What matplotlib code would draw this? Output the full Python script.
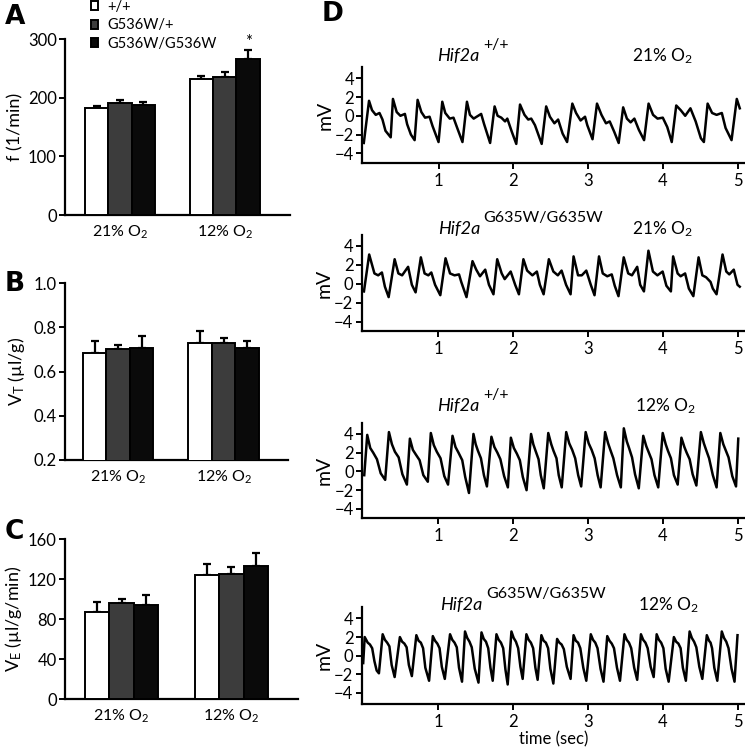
import matplotlib
matplotlib.use('Agg')
import matplotlib.pyplot as plt
import numpy as np

plt.rcParams['font.family'] = ['Lato', 'DejaVu Sans']
plt.rcParams['font.size'] = 12
plt.rcParams['mathtext.fontset'] = 'custom'
plt.rcParams['mathtext.rm'] = 'Lato'
plt.rcParams['mathtext.it'] = 'Lato:italic'
plt.rcParams['mathtext.bf'] = 'Lato:bold'
plt.rcParams['mathtext.default'] = 'regular'

# ---- bar panels A-C ----
conditions = ['21% O$_2$', '12% O$_2$']
genotypes = ['+/+', 'G536W/+', 'G536W/G536W']
bar_colors = ['white', '#3c3c3c', '#0a0a0a']

f_mean = [[183, 192, 188], [232, 236, 266]]
f_err = [[3, 5, 5], [5, 8, 15]]

vt_mean = [[0.683, 0.701, 0.707], [0.731, 0.731, 0.707]]
vt_err = [[0.057, 0.021, 0.056], [0.055, 0.021, 0.033]]

ve_mean = [[87.3, 96.0, 94.3], [124.0, 125.0, 133.3]]
ve_err = [[10.4, 4.0, 10.0], [11.3, 7.7, 12.7]]

# ---- traces (panel D), time in sec, mV ----
tr1_t = [0.00, 0.07, 0.11, 0.16, 0.21, 0.25, 0.29, 0.36,
         0.39, 0.44, 0.49, 0.55, 0.58, 0.63, 0.68,
         0.72, 0.77, 0.82, 0.88, 0.92, 1.00,
         1.05, 1.09, 1.15, 1.20, 1.25, 1.32,
         1.38, 1.42, 1.47, 1.57, 1.61, 1.69,
         1.75, 1.79, 1.84, 1.89, 1.92, 1.98, 2.04,
         2.09, 2.15, 2.20, 2.24, 2.29, 2.38,
         2.44, 2.49, 2.55, 2.60, 2.66, 2.72,
         2.79, 2.84, 2.90, 2.96, 2.99, 3.06,
         3.12, 3.18, 3.24, 3.29, 3.35, 3.41,
         3.47, 3.52, 3.57, 3.62, 3.68, 3.75,
         3.81, 3.87, 3.93, 4.00, 4.06, 4.12,
         4.18, 4.24, 4.30, 4.37, 4.44, 4.51, 4.55,
         4.60, 4.66, 4.72, 4.79, 4.84, 4.92,
         4.99, 5.03]
tr1_v = [-2.9, 1.6, 0.6, 0.1, 0.3, -0.4, -1.6, -2.3,
         1.8, 0.4, 0.0, 0.2, -0.9, -2.0, -2.6,
         1.7, 0.4, -0.2, -0.1, -1.1, -2.8,
         1.5, 0.3, -0.3, -0.2, -1.3, -2.8,
         1.5, 0.1, -0.3, 0.2, -0.9, -2.9,
         1.0, 0.0, -0.2, -0.6, -0.3, -1.7, -3.0,
         1.2, 0.1, -0.4, -0.3, -1.0, -3.0,
         1.0, -0.1, -0.8, -0.4, -1.9, -2.8,
         1.3, 0.3, -0.5, -0.1, -1.0, -2.5,
         1.3, 0.1, -0.8, -0.6, -1.7, -2.9,
         0.9, -0.3, -0.7, -0.3, -1.5, -2.6,
         1.3, 0.1, -0.3, -0.2, -1.2, -2.8,
         1.1, 0.6, 0.0, 0.8, -0.6, -2.4, -2.8,
         1.3, 0.3, 0.1, 0.3, -1.3, -2.6,
         1.8, 0.8]

tr2_t = [0.01, 0.08, 0.15, 0.20, 0.25, 0.29, 0.34,
         0.42, 0.47, 0.52, 0.60, 0.65, 0.70,
         0.77, 0.82, 0.87, 0.91, 0.96, 1.03,
         1.10, 1.16, 1.22, 1.28, 1.31, 1.38,
         1.46, 1.51, 1.56, 1.63, 1.68, 1.74,
         1.79, 1.85, 1.89, 1.97, 2.03, 2.08,
         2.14, 2.19, 2.26, 2.32, 2.36, 2.41,
         2.48, 2.54, 2.60, 2.65, 2.71, 2.77,
         2.81, 2.87, 2.92, 2.98, 3.04, 3.09,
         3.15, 3.20, 3.26, 3.32, 3.36, 3.41,
         3.48, 3.54, 3.59, 3.66, 3.70, 3.75,
         3.81, 3.87, 3.93, 4.00, 4.05, 4.11,
         4.14, 4.20, 4.24, 4.30, 4.35, 4.41,
         4.48, 4.53, 4.58, 4.64, 4.67, 4.72,
         4.80, 4.85, 4.89, 4.95, 5.00, 5.03]
tr2_v = [-0.8, 3.1, 1.1, 0.9, 1.2, -0.3, -1.4,
         2.6, 1.1, 0.9, 1.8, -0.1, -0.9,
         2.8, 1.1, 0.9, 1.2, -0.1, -1.2,
         2.7, 1.1, 0.9, 1.0, 0.2, -1.4,
         2.4, 1.5, 0.8, 1.5, -0.1, -1.1,
         2.6, 1.1, 0.5, 1.3, -0.1, -1.1,
         2.6, 1.4, 0.9, 1.3, -0.1, -1.1,
         2.6, 1.3, 0.9, 1.4, -0.1, -1.1,
         2.9, 0.9, 0.9, 1.4, -0.1, -1.2,
         2.9, 1.1, 0.8, 1.0, -0.2, -1.3,
         2.8, 1.1, 0.9, 1.8, -0.1, -0.8,
         3.5, 1.3, 0.9, 1.3, -0.2, -0.8,
         2.9, 1.1, 0.8, 1.1, -0.5, -1.3,
         2.8, 0.9, 0.7, 0.2, -0.5, -1.1,
         3.1, 1.3, 1.0, 1.5, -0.1, -0.3]

tr3_t = [0.01, 0.05, 0.09, 0.13, 0.18, 0.23, 0.29,
         0.34, 0.38, 0.42, 0.47, 0.52, 0.58,
         0.62, 0.66, 0.70, 0.75, 0.80, 0.86,
         0.90, 0.94, 0.98, 1.03, 1.08, 1.13,
         1.19, 1.23, 1.27, 1.32, 1.36, 1.41,
         1.47, 1.50, 1.53, 1.57, 1.61, 1.65,
         1.71, 1.75, 1.79, 1.83, 1.88, 1.93,
         1.97, 2.01, 2.05, 2.09, 2.13, 2.18,
         2.24, 2.27, 2.30, 2.34, 2.37, 2.41,
         2.47, 2.51, 2.54, 2.58, 2.61, 2.65,
         2.71, 2.75, 2.79, 2.83, 2.87, 2.91,
         2.97, 3.01, 3.05, 3.09, 3.13, 3.17,
         3.23, 3.27, 3.30, 3.34, 3.39, 3.44,
         3.48, 3.52, 3.55, 3.59, 3.63, 3.68,
         3.74, 3.78, 3.81, 3.85, 3.89, 3.94,
         4.00, 4.04, 4.07, 4.11, 4.15, 4.20,
         4.25, 4.29, 4.32, 4.36, 4.40, 4.45,
         4.51, 4.55, 4.58, 4.62, 4.67, 4.72,
         4.77, 4.81, 4.84, 4.88, 4.93, 4.98,
         5.01]
tr3_v = [-0.4, 3.9, 2.5, 2.0, 1.3, -0.2, -0.9,
         4.2, 2.9, 2.1, 1.5, -0.3, -1.4,
         3.5, 2.3, 1.8, 1.2, -0.4, -1.1,
         4.1, 2.8, 2.1, 1.4, -0.5, -1.4,
         3.8, 2.6, 2.0, 1.2, -0.6, -2.3,
         4.0, 2.9, 2.2, 1.4, -0.4, -1.6,
         3.7, 2.6, 2.0, 1.3, -0.5, -1.7,
         3.6, 2.5, 1.9, 1.2, -0.6, -2.0,
         4.0, 2.9, 2.2, 1.3, -0.4, -1.8,
         4.1, 2.9, 2.2, 1.4, -0.4, -1.7,
         4.2, 3.0, 2.3, 1.4, -0.4, -1.6,
         4.2, 3.0, 2.3, 1.4, -0.4, -1.7,
         4.2, 3.0, 2.3, 1.4, -0.4, -1.7,
         4.6, 3.2, 2.5, 1.5, -0.3, -1.8,
         3.8, 2.7, 2.1, 1.3, -0.4, -1.7,
         4.1, 2.9, 2.2, 1.4, -0.4, -1.4,
         3.6, 2.6, 2.0, 1.3, -0.3, -1.5,
         4.2, 3.0, 2.3, 1.4, -0.4, -1.7,
         4.1, 2.9, 2.3, 1.5, -0.5, -1.6,
         3.5]

tr4_t = [0.00, 0.02, 0.06, 0.09, 0.12, 0.15, 0.18, 0.21,
         0.26, 0.29, 0.32, 0.35, 0.38, 0.42,
         0.49, 0.52, 0.55, 0.58, 0.61, 0.65,
         0.71, 0.74, 0.77, 0.80, 0.83, 0.88,
         0.93, 0.96, 0.99, 1.02, 1.05, 1.09,
         1.16, 1.19, 1.22, 1.25, 1.28, 1.32,
         1.36, 1.39, 1.42, 1.45, 1.49, 1.54,
         1.58, 1.61, 1.64, 1.67, 1.70, 1.73,
         1.78, 1.81, 1.84, 1.87, 1.90, 1.93,
         1.98, 2.01, 2.04, 2.07, 2.10, 2.13,
         2.18, 2.21, 2.24, 2.27, 2.30, 2.33,
         2.38, 2.41, 2.44, 2.47, 2.50, 2.54,
         2.59, 2.62, 2.65, 2.68, 2.72, 2.77,
         2.81, 2.84, 2.87, 2.90, 2.94, 2.98,
         3.04, 3.07, 3.10, 3.13, 3.17, 3.21,
         3.26, 3.29, 3.32, 3.35, 3.39, 3.43,
         3.49, 3.52, 3.55, 3.58, 3.62, 3.66,
         3.71, 3.74, 3.77, 3.80, 3.84, 3.88,
         3.92, 3.95, 3.98, 4.01, 4.04, 4.08,
         4.15, 4.18, 4.21, 4.24, 4.27, 4.31,
         4.36, 4.39, 4.42, 4.45, 4.49, 4.53,
         4.59, 4.62, 4.64, 4.66, 4.69, 4.73,
         4.79, 4.82, 4.85, 4.88, 4.92, 4.96,
         5.00]
tr4_v = [-0.8, 2.0, 1.4, 1.2, 0.8, -0.6, -1.6, -1.9,
         2.3, 1.7, 1.4, 1.0, -1.0, -2.3,
         2.0, 1.5, 1.3, 0.9, -1.0, -2.2,
         2.2, 1.6, 1.4, 0.8, -1.3, -2.7,
         2.1, 1.6, 1.3, 0.8, -1.2, -2.5,
         2.3, 1.7, 1.4, 0.9, -1.3, -2.8,
         2.6, 1.9, 1.5, 0.9, -1.4, -2.9,
         2.5, 1.8, 1.5, 0.8, -1.3, -2.7,
         2.3, 1.7, 1.4, 0.8, -1.5, -3.1,
         2.6, 1.9, 1.5, 0.8, -1.2, -2.5,
         2.3, 1.7, 1.4, 0.8, -1.3, -2.6,
         2.2, 1.6, 1.4, 0.8, -1.4, -3.0,
         1.8, 1.4, 1.2, 0.7, -1.2, -2.5,
         2.2, 1.6, 1.4, 0.8, -1.3, -2.7,
         2.3, 1.7, 1.4, 0.8, -1.4, -2.8,
         2.1, 1.6, 1.3, 0.8, -1.3, -2.7,
         2.3, 1.7, 1.4, 0.8, -1.3, -2.6,
         2.3, 1.7, 1.4, 0.8, -1.2, -2.3,
         2.3, 1.7, 1.4, 0.8, -1.4, -2.8,
         2.0, 1.5, 1.3, 0.8, -1.3, -2.7,
         2.6, 1.9, 1.5, 0.9, -1.2, -2.5,
         2.2, 1.6, 1.4, 0.8, -1.3, -2.7,
         2.6, 1.9, 1.5, 0.8, -1.4, -2.8,
         2.2]

trace_gene = ['Hif2a', 'Hif2a', 'Hif2a', 'Hif2a']
trace_allele = ['+/+', 'G635W/G635W', '+/+', 'G635W/G635W']
trace_oxygen = ['21% O$_2$', '21% O$_2$', '12% O$_2$', '12% O$_2$']

W, H = 745, 751
fig = plt.figure(figsize=(W / 100, H / 100), dpi=100)


def px_axes(left, right, top, bottom):
    return fig.add_axes([left / W, 1 - bottom / H, (right - left) / W, (bottom - top) / H])


def style_axes(ax):
    for s in ['top', 'right']:
        ax.spines[s].set_visible(False)
    for s in ['left', 'bottom']:
        ax.spines[s].set_linewidth(1.6)
    ax.tick_params(axis='y', direction='out', length=4, width=1.4, pad=2, labelsize=12)


def bar_panel(ax, means, errs, ylim, yticks, xlim):
    style_axes(ax)
    groups = [0, 4.5]
    handles = []
    for k in range(3):
        xs = [g + k - 1 for g in groups]
        vals = [means[0][k], means[1][k]]
        es = [errs[0][k], errs[1][k]]
        b = ax.bar(xs, vals, width=1.0, color=bar_colors[k], edgecolor='black',
                   linewidth=1.4, zorder=3)
        ax.errorbar(xs, vals, yerr=[[0, 0], es], fmt='none', ecolor='black',
                    elinewidth=1.6, capsize=3, capthick=1.6, zorder=2)
        handles.append(b)
    ax.set_ylim(*ylim)
    ax.set_yticks(yticks)
    ax.set_xlim(*xlim)
    ax.set_xticks(groups)
    ax.set_xticklabels(conditions)
    ax.tick_params(axis='x', length=0, pad=6, labelsize=11.5)
    return handles


axA = px_axes(65, 290, 39.3, 215)
hA = bar_panel(axA, f_mean, f_err, (0, 300), [0, 100, 200, 300], (-2.36, 7.3))
axA.set_ylabel('f (1/min)', labelpad=3, fontsize=13)
axA.text(4.5 + 1, f_mean[1][2] + f_err[1][2] + 1, '*', ha='center', va='bottom', fontsize=12)
fig.legend(hA, genotypes, loc='upper left', bbox_to_anchor=(91 / W, 1.0), frameon=False,
           handlelength=0.5, handleheight=0.6, handletextpad=0.6, labelspacing=0.3,
           borderpad=0.0, borderaxespad=0.0, fontsize=10.5)

axB = px_axes(65, 288, 283.3, 460)
bar_panel(axB, vt_mean, vt_err, (0.2, 1.0), [0.2, 0.4, 0.6, 0.8, 1.0], (-2.26, 7.24))
axB.set_yticklabels(['0.2', '0.4', '0.6', '0.8', '1.0'])
axB.set_ylabel('V$_\\mathregular{T}$ (µl/g)', labelpad=5, fontsize=13)

axC = px_axes(65, 298, 539.3, 699.3)
bar_panel(axC, ve_mean, ve_err, (0, 160), [0, 40, 80, 120, 160], (-2.32, 7.23))
axC.set_ylabel('V$_\\mathregular{E}$ (µl/g/min)', labelpad=3, fontsize=13)

# ---- traces ----
trace_boxes = [(362.3, 745, 66.7, 163.3, (-5.07, 5.24)),
               (361.7, 745, 235, 331, (-4.98, 5.16)),
               (362.0, 745, 422.7, 518.3, (-5.0, 5.2)),
               (361.7, 745, 607.3, 704, (-5.2, 5.2))]
traces = [(tr1_t, tr1_v), (tr2_t, tr2_v), (tr3_t, tr3_v), (tr4_t, tr4_v)]
title_y = [61, 234, 411, 610]
title_x = [437, 438, 437, 440]
sup_x = [483, 483, 483, 486]
oxy_x = [632, 632, 635, 638]

for i, (box, (t, v)) in enumerate(zip(trace_boxes, traces)):
    l, r, tp, bt, yl = box
    ax = px_axes(l, r, tp, bt)
    style_axes(ax)
    ax.plot(t, v, color='black', linewidth=1.8, solid_joinstyle='round')
    ax.set_xlim(-0.02, 5.1)
    ax.set_ylim(*yl)
    ax.set_yticks([-4, -2, 0, 2, 4])
    ax.set_xticks([1, 2, 3, 4, 5])
    ax.tick_params(axis='x', direction='out', length=4, width=1.4, pad=3, labelsize=12)
    ax.set_ylabel('mV', labelpad=1, fontsize=14)
    fig.text(title_x[i] / W, 1 - title_y[i] / H, trace_gene[i], ha='left', va='baseline',
             fontsize=13, style='italic')
    fig.text(sup_x[i] / W, 1 - (title_y[i] - 12) / H, trace_allele[i], ha='left',
             va='baseline', fontsize=11.5)
    fig.text(oxy_x[i] / W, 1 - title_y[i] / H, trace_oxygen[i], ha='left', va='baseline',
             fontsize=12.5)
    if i == 3:
        ax.set_xlabel('time (sec)', labelpad=1, fontsize=12)

# panel letters
for lab, x, y in [('A', 5, 24), ('B', 5, 291), ('C', 5, 539), ('D', 322, 21)]:
    fig.text(x / W, 1 - y / H, lab, fontsize=19, fontweight='bold', family='DejaVu Sans',
             ha='left', va='baseline')

plt.savefig('out.png', dpi=100)
